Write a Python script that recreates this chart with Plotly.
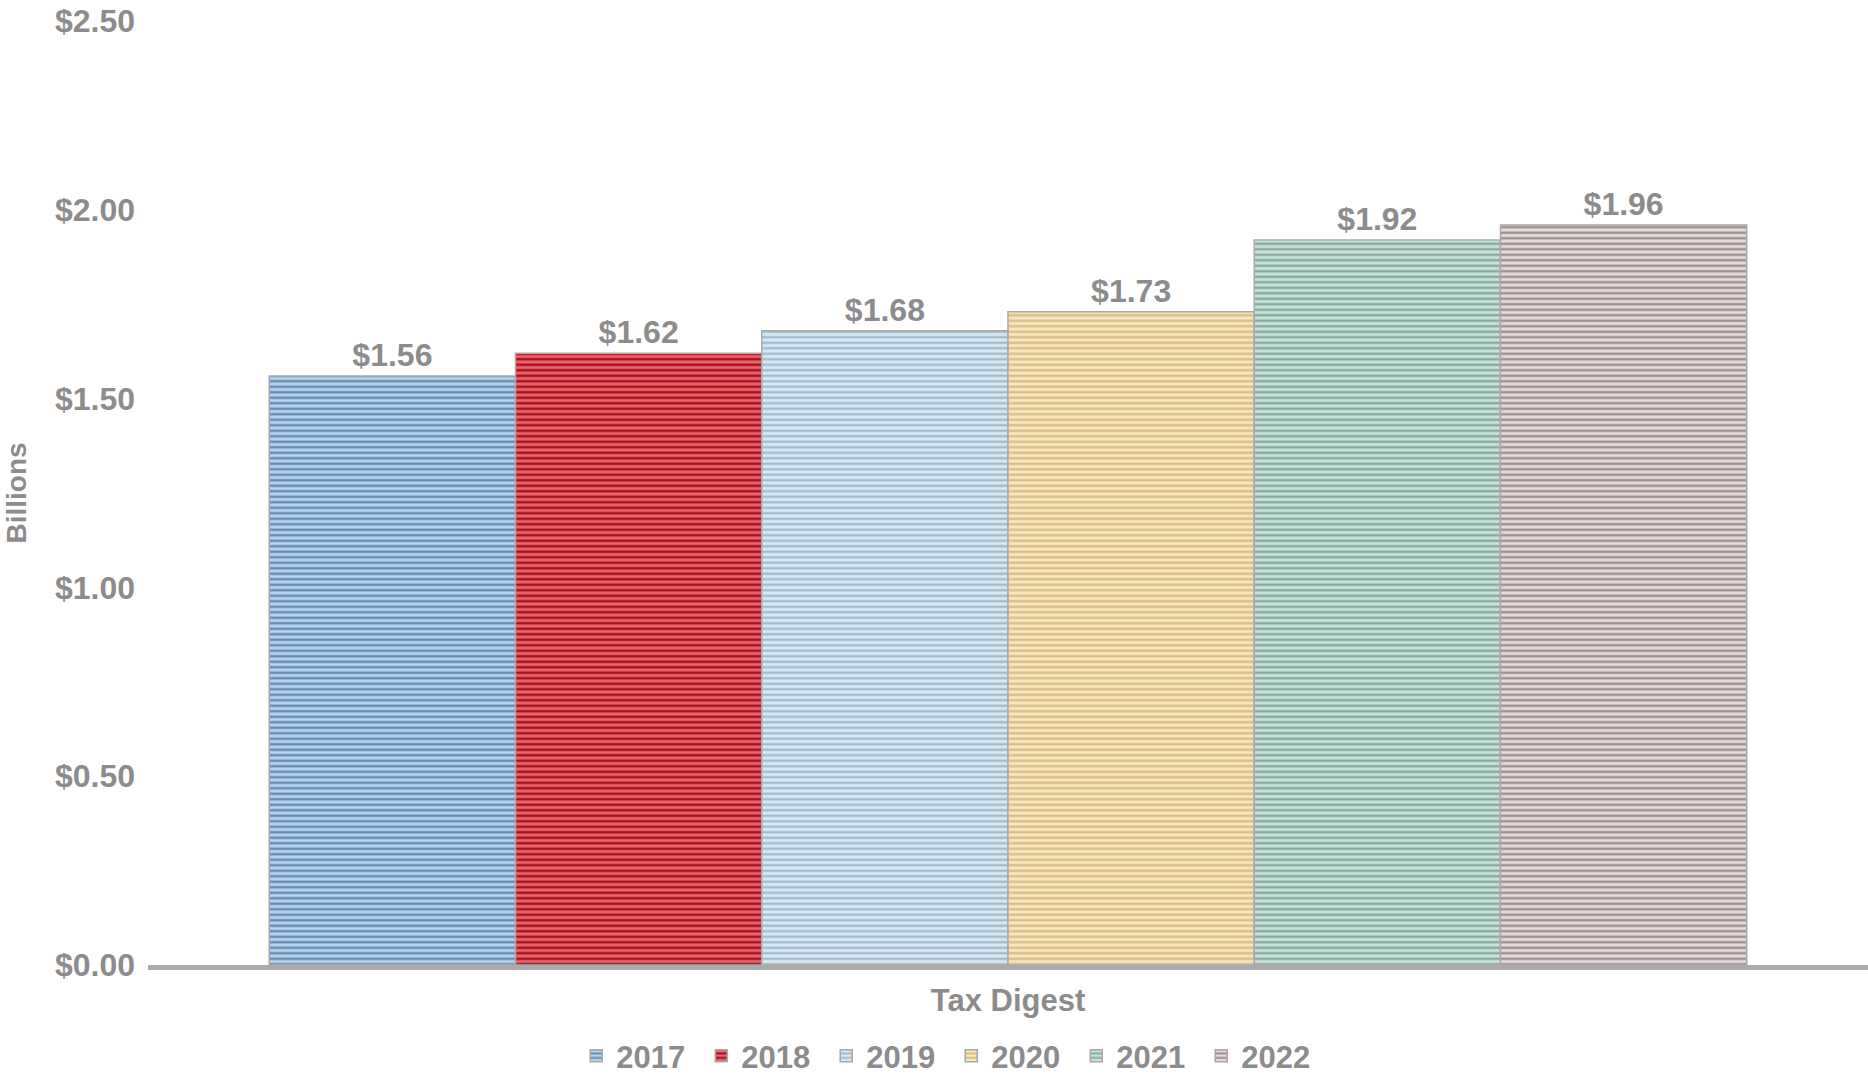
import plotly.graph_objects as go

category = ["Tax Digest"]
years = ["2017", "2018", "2019", "2020", "2021", "2022"]
values = [1.56, 1.62, 1.68, 1.73, 1.92, 1.96]
bg_colors = ["#b4d4ee", "#e9646c", "#dae9f6", "#fae6b6", "#c6e4dc", "#e6dada"]
fg_colors = ["#6a8cb0", "#a8101e", "#a6bccd", "#d6be8e", "#8eaaa0", "#9c9292"]

GRAY = "#8c8c8c"
FAM = "Liberation Sans, Arial, sans-serif"
FONT = dict(family=FAM, size=32, color=GRAY, weight="bold")
FONT_L = dict(family=FAM, size=31, color=GRAY, weight="bold")
FONT_X = dict(family=FAM, size=31, color=GRAY, weight="bold")
FONT_T = dict(family=FAM, size=28, color=GRAY, weight="bold")

fig = go.Figure()
for yr, v, bg, fg in zip(years, values, bg_colors, fg_colors):
    fig.add_trace(go.Bar(
        name=yr,
        x=category,
        y=[v],
        text=[f"${v:.2f}"],
        textposition="outside",
        textfont=FONT,
        cliponaxis=False,
        marker=dict(
            color=bg,
            line=dict(color="#a9a9a9", width=1.5),
            pattern=dict(shape="-", size=5.5, solidity=0.45, fgcolor=fg, bgcolor=bg, fillmode="replace"),
        ),
        hoverinfo="skip",
    ))

fig.update_layout(
    width=1868, height=1077,
    margin=dict(l=148, r=0, t=21, b=112, autoexpand=False),
    paper_bgcolor="white", plot_bgcolor="white",
    barmode="group", bargap=0.141, bargroupgap=0,
    font=FONT,
    showlegend=True,
    legend=dict(
        orientation="h", x=0.467, xanchor="center",
        yref="container", y=0.0195, yanchor="middle",
        font=FONT_L, traceorder="normal", itemwidth=30,
        entrywidth=80, entrywidthmode="pixels", maxheight=200,
    ),
    uniformtext=dict(mode=False),
)
fig.update_yaxes(
    range=[0, 2.5], dtick=0.5, tickprefix="$", tickformat=".2f",
    showgrid=False, zeroline=False, showline=False,
    tickfont=FONT, ticklabelstandoff=12,
    title=dict(text="Billions", font=FONT_T, standoff=20),
)
fig.update_xaxes(
    showline=True, linecolor="#ababab", linewidth=5,
    showgrid=False, ticks="", tickfont=FONT_X, ticklabelstandoff=4,
)

fig.write_html("out.html")
